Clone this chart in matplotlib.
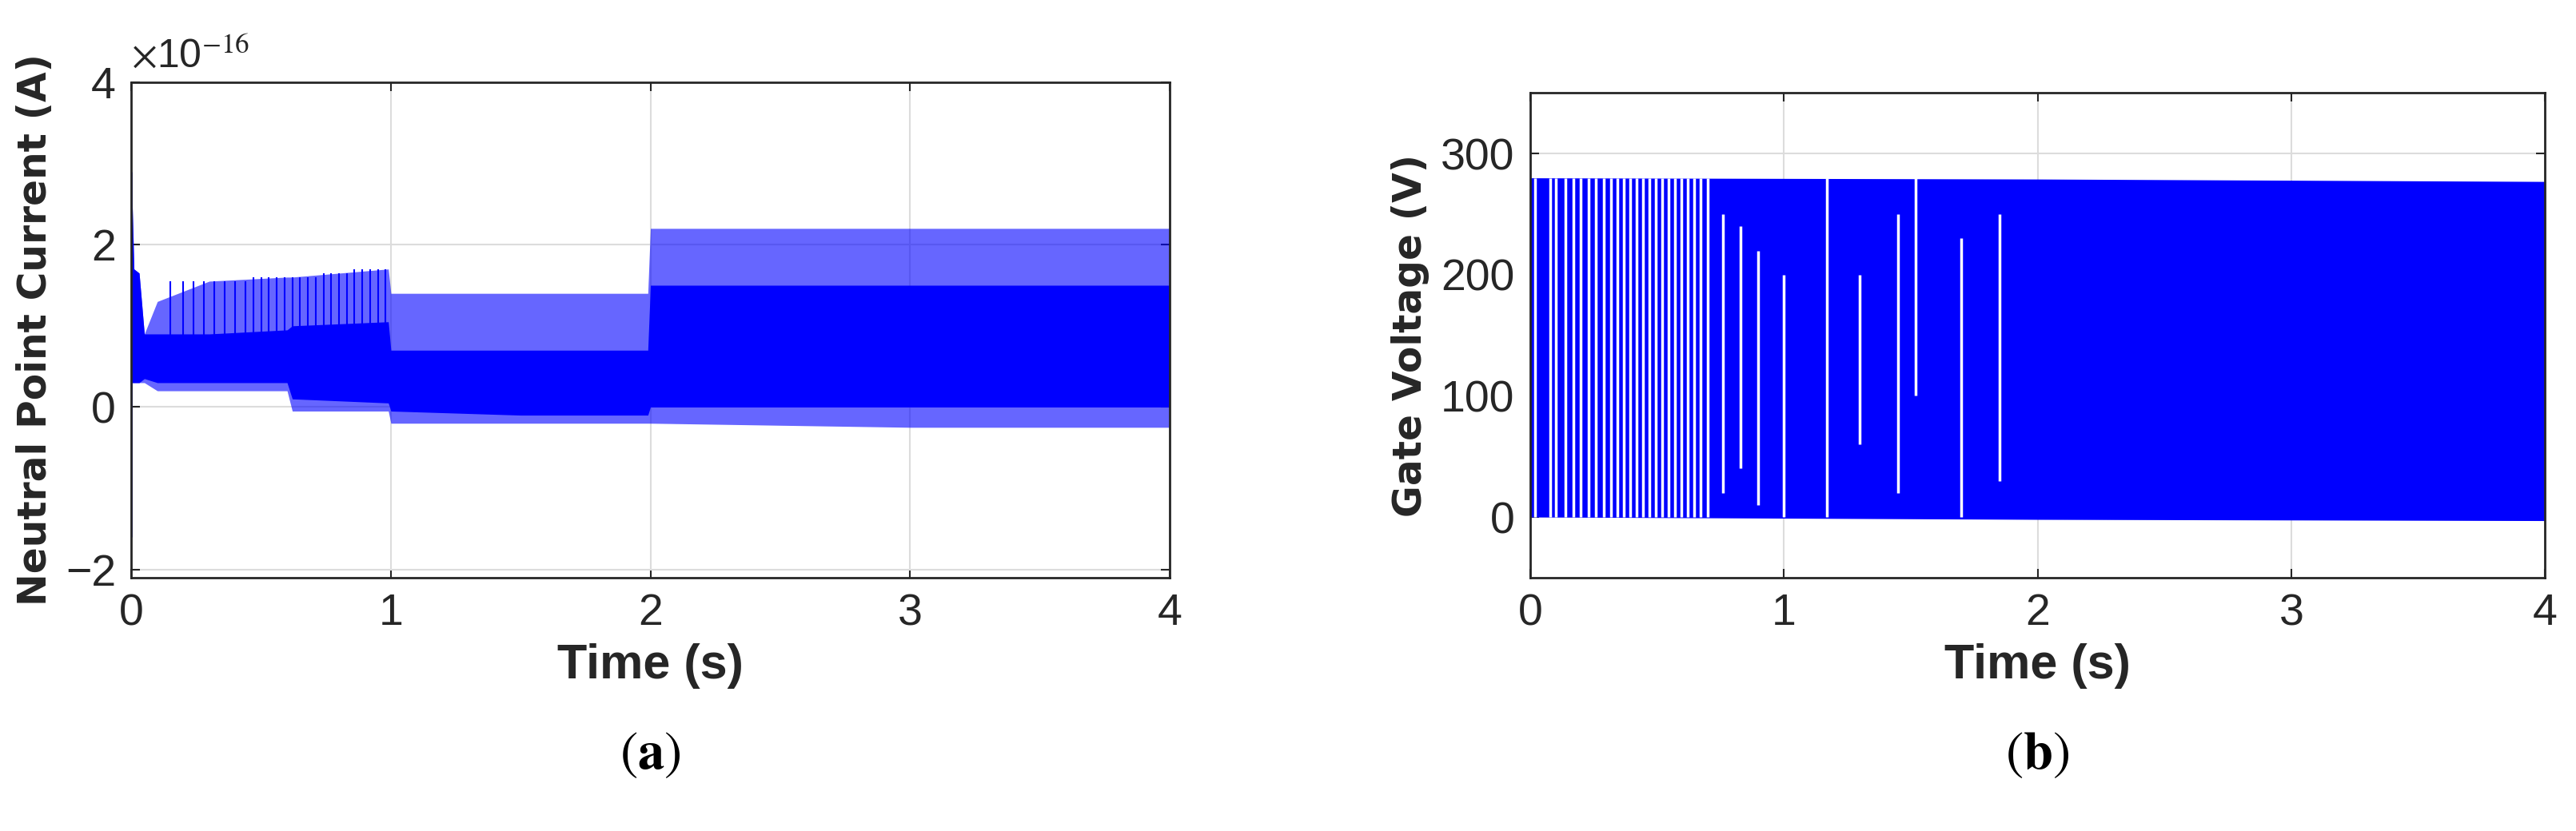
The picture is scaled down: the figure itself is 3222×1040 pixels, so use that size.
import matplotlib
matplotlib.use("Agg")
import matplotlib.pyplot as plt
import numpy as np

plt.rcParams["mathtext.fontset"] = "stix"

# ---- panel (a): neutral point current envelopes (x1e-16 A) ----
a_t       = [0.0, 0.01, 0.03, 0.05, 0.1, 0.3, 0.6, 0.62, 0.99, 1.0, 1.5, 1.99, 2.0, 3.0, 4.0]
a_core_lo = [0.3, 0.3, 0.3, 0.35, 0.3, 0.3, 0.3, 0.1, 0.05, -0.05, -0.1, -0.1, 0.0, 0.0, 0.0]
a_core_hi = [2.9, 1.7, 1.65, 0.9, 0.9, 0.9, 0.95, 1.0, 1.05, 0.7, 0.7, 0.7, 1.5, 1.5, 1.5]
a_out_lo  = [0.3, 0.3, 0.3, 0.3, 0.2, 0.2, 0.2, -0.05, -0.05, -0.2, -0.2, -0.2, -0.2, -0.25, -0.25]
a_out_hi  = [2.9, 1.7, 1.65, 0.9, 1.3, 1.55, 1.6, 1.6, 1.7, 1.4, 1.4, 1.4, 2.2, 2.2, 2.2]
a_spikes  = [0.15, 0.2, 0.24, 0.28, 0.32, 0.36, 0.4, 0.44, 0.47, 0.5, 0.53, 0.56, 0.59,
             0.62, 0.65, 0.68, 0.71, 0.74, 0.77, 0.8, 0.83, 0.86, 0.89, 0.92, 0.95, 0.98]
a_spike_h = [1.55, 1.55, 1.55, 1.55, 1.55, 1.55, 1.55, 1.55, 1.6, 1.6, 1.6, 1.6, 1.6,
             1.6, 1.6, 1.6, 1.6, 1.65, 1.65, 1.65, 1.65, 1.7, 1.7, 1.7, 1.7, 1.7]

# ---- panel (b): gate voltage ----
b_t      = [0.0, 2.0, 4.0]
b_lo     = [0.0, -2.0, -3.0]
b_hi     = [280.0, 279.0, 277.0]
b_gaps   = [0.02, 0.08, 0.1, 0.14, 0.17, 0.2, 0.23, 0.26, 0.29, 0.32, 0.345, 0.37, 0.395,
            0.42, 0.445, 0.47, 0.495, 0.52, 0.545, 0.57, 0.595, 0.62, 0.645, 0.67, 0.7,
            0.76, 0.83, 0.9, 1.0, 1.17, 1.3, 1.45, 1.52, 1.7, 1.85]
b_gap_lo = [0, 0, 0, 0, 0, 0, 0, 0, 0, 0, 0, 0, 0, 0, 0, 0, 0, 0, 0, 0, 0, 0, 0, 0, 0,
            20, 40, 10, 0, 0, 60, 20, 100, 0, 30]
b_gap_hi = [280, 280, 280, 280, 280, 280, 280, 280, 280, 280, 280, 280, 280, 280, 280,
            280, 280, 280, 280, 280, 280, 280, 280, 280, 280, 250, 240, 220, 200, 280,
            200, 250, 280, 230, 250]

xticks = [0, 1, 2, 3, 4]
blue = "#0000ff"
tickfont = ["Liberation Sans Narrow", "Liberation Sans", "DejaVu Sans"]

fig = plt.figure(figsize=(32.22, 10.4), dpi=100)
ax1 = fig.add_axes([0.051, 0.305, 0.403, 0.596])
ax2 = fig.add_axes([0.594, 0.305, 0.394, 0.583])

for ax in (ax1, ax2):
    ax.grid(True, color="#dcdcdc", linewidth=1.5)
    ax.set_axisbelow(True)
    ax.set_xlim(0, 4)
    ax.set_xticks(xticks)
    ax.tick_params(direction="in", length=8, width=1.5, labelsize=40, pad=14, top=True, right=True,
                   labeltop=False, labelright=False, colors="#262626")
    for lab in ax.get_xticklabels() + ax.get_yticklabels():
        lab.set_family(tickfont)
    for s in ax.spines.values():
        s.set_linewidth(2)
        s.set_color("#262626")
    ax.set_xlabel("Time (s)", fontsize=44, fontweight="bold", family=tickfont, labelpad=8,
                  color="#262626")

ax1.fill_between(a_t, a_out_lo, a_out_hi, color=blue, alpha=0.6, linewidth=0)
ax1.fill_between(a_t, a_core_lo, a_core_hi, color=blue, linewidth=0)
ax1.vlines(a_spikes, 0.3, a_spike_h, color=blue, linewidth=1.5)
ax1.vlines([0.0], -1.6, 2.9, color=blue, linewidth=2)
ax1.set_ylim(-2.1, 4)
ax1.set_yticks([-2, 0, 2, 4])
ax1.set_ylabel("Neutral Point Current (A)", fontsize=35, fontweight="bold", labelpad=10,
               color="#262626")
ax1.text(0.0, 1.015, r"$\times$10$^{-16}$", transform=ax1.transAxes, fontsize=36,
         family=tickfont, va="bottom", ha="left", color="#262626")

ax2.fill_between(b_t, b_lo, b_hi, color=blue, linewidth=0)
ax2.vlines(b_gaps, b_gap_lo, b_gap_hi, color="white", linewidth=2.5)
ax2.set_ylim(-50, 350)
ax2.set_yticks([0, 100, 200, 300])
ax2.set_ylabel("Gate Voltage (V)", fontsize=35, fontweight="bold", labelpad=10,
               color="#262626")

fig.text(0.2525, 0.075, r"($\mathbf{a}$)", fontsize=48, family="STIXGeneral", ha="center")
fig.text(0.791, 0.075, r"($\mathbf{b}$)", fontsize=48, family="STIXGeneral", ha="center")

fig.savefig("out.png", dpi=100, facecolor="white")
